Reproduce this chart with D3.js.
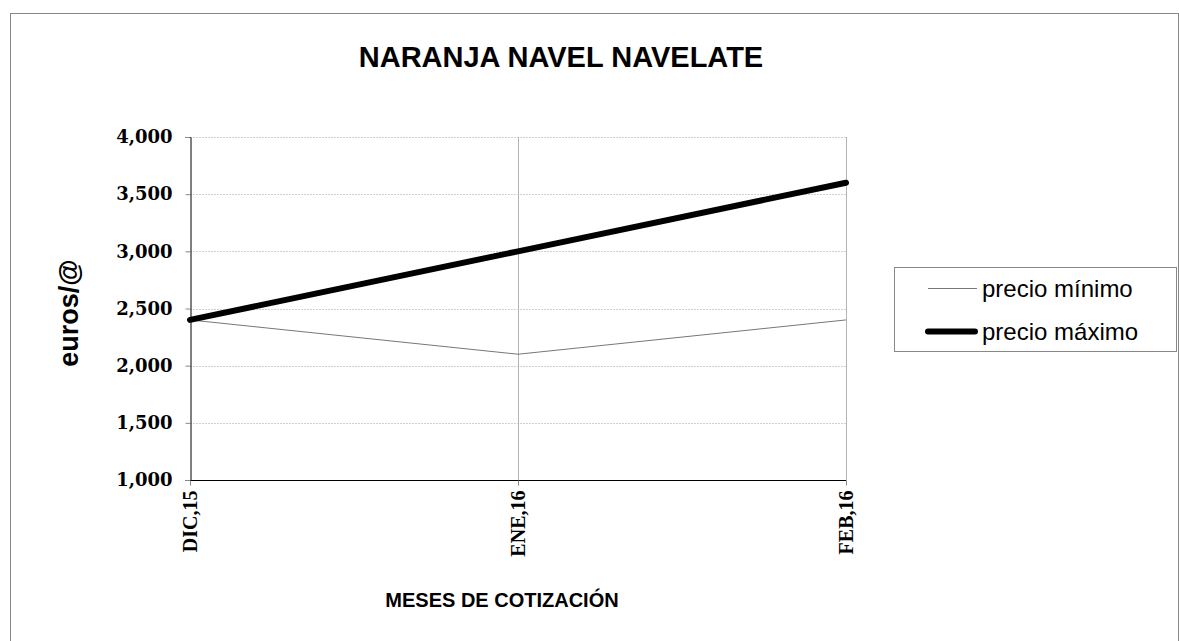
<!DOCTYPE html>
<html><head><meta charset="utf-8">
<script src="https://cdn.jsdelivr.net/npm/d3@7"></script>
<style>body{margin:0;background:#fff}svg{display:block}</style>
</head><body>
<svg id="c" width="1179" height="641"></svg>
<script>
const categories = ["DIC,15", "ENE,16", "FEB,16"];
const precioMinimo = [2.4, 2.1, 2.4];
const precioMaximo = [2.4, 3.0, 3.6];
const yTicks = [1, 1.5, 2, 2.5, 3, 3.5, 4];
const yTickLabels = ["1,000", "1,500", "2,000", "2,500", "3,000", "3,500", "4,000"];
const seriesNames = ["precio mínimo", "precio máximo"];
const title = "NARANJA NAVEL NAVELATE";
const xTitle = "MESES DE COTIZACIÓN";
const yTitle = "euros/@";

const svg = d3.select("#c");
svg.append("rect").attr("x", 10.5).attr("y", 13.5).attr("width", 1168).attr("height", 700)
  .attr("fill", "#fff").attr("stroke", "#888").attr("stroke-width", 1);

const L = 190, R = 846, T = 137, B = 480;
const x = d3.scalePoint().domain(categories).range([L, R]);
const y = d3.scaleLinear().domain([1, 4]).range([B, T]);

// horizontal gridlines
svg.append("g").selectAll("line").data(yTicks.slice(1)).join("line")
  .attr("x1", L).attr("x2", R).attr("y1", d => Math.round(y(d)) + 0.5).attr("y2", d => Math.round(y(d)) + 0.5)
  .attr("stroke", "#d0d0d0").attr("stroke-width", 1).attr("stroke-dasharray", "2,1");

// vertical gridlines
svg.append("g").selectAll("line").data(categories.slice(1)).join("line")
  .attr("x1", d => x(d) + 0.5).attr("x2", d => x(d) + 0.5).attr("y1", T).attr("y2", B + 5)
  .attr("stroke", "#b4b4b4").attr("stroke-width", 1);

// y axis
const yAxis = d3.axisLeft(y).tickValues(yTicks).tickFormat((d, i) => yTickLabels[i]).tickSize(5).tickPadding(13);
const gy = svg.append("g").attr("transform", `translate(${L + 0.5},0)`).call(yAxis);
gy.select(".domain").attr("stroke", "#000");
gy.selectAll(".tick line").attr("stroke", "#888");
gy.selectAll(".tick text").attr("font-family", "DejaVu Serif").attr("font-weight", "900")
  .attr("font-size", 18).attr("fill", "#000");

// x axis
const xAxis = d3.axisBottom(x).tickSize(5).tickPadding(0);
const gx = svg.append("g").attr("transform", `translate(0,${B + 0.5})`).call(xAxis);
gx.select(".domain").attr("stroke", "#000").attr("d", `M${L},0H${R}`);
gx.selectAll(".tick line").attr("stroke", "#888");
gx.selectAll(".tick text")
  .attr("font-family", "Liberation Serif").attr("font-weight", "bold").attr("font-size", 20).attr("fill", "#000")
  .attr("transform", "rotate(-90)").attr("text-anchor", "end").attr("x", -10).attr("y", 0).attr("dy", "0.33em");

// lines
const line = d3.line().x((d, i) => x(categories[i])).y(d => y(d));
svg.append("path").datum(precioMinimo).attr("d", line).attr("fill", "none")
  .attr("stroke", "#777").attr("stroke-width", 1);
svg.append("path").datum(precioMaximo).attr("d", line).attr("fill", "none")
  .attr("stroke", "#000").attr("stroke-width", 6).attr("stroke-linecap", "round").attr("stroke-linejoin", "round");

// titles
svg.append("text").attr("x", 561).attr("y", 67).attr("text-anchor", "middle")
  .attr("font-family", "Liberation Sans, Arial").attr("font-weight", "bold").attr("font-size", 29).text(title);
svg.append("text").attr("x", 502).attr("y", 607).attr("text-anchor", "middle")
  .attr("font-family", "Liberation Sans, Arial").attr("font-weight", "bold").attr("font-size", 20).text(xTitle);
svg.append("text").attr("transform", "translate(78,313) rotate(-90)").attr("text-anchor", "middle")
  .attr("font-family", "Liberation Sans, Arial").attr("font-weight", "bold").attr("font-size", 27).text(yTitle);

// legend
const lg = svg.append("g");
lg.append("rect").attr("x", 894.5).attr("y", 267.5).attr("width", 282).attr("height", 84)
  .attr("fill", "#fff").attr("stroke", "#888");
const legendY = [288, 331];
const legendStyle = [{c: "#777", w: 1, x1: 928, x2: 977, cap: "butt"}, {c: "#000", w: 6, x1: 928, x2: 975, cap: "round"}];
seriesNames.forEach((n, i) => {
  const s = legendStyle[i];
  lg.append("line").attr("x1", s.x1).attr("x2", s.x2).attr("y1", legendY[i] + 0.5).attr("y2", legendY[i] + 0.5)
    .attr("stroke", s.c).attr("stroke-width", s.w).attr("stroke-linecap", s.cap);
  lg.append("text").attr("x", 982).attr("y", legendY[i] + 9)
    .attr("font-family", "Liberation Sans, Arial").attr("font-size", 24).attr("fill", "#000").text(n);
});
</script>
</body></html>
